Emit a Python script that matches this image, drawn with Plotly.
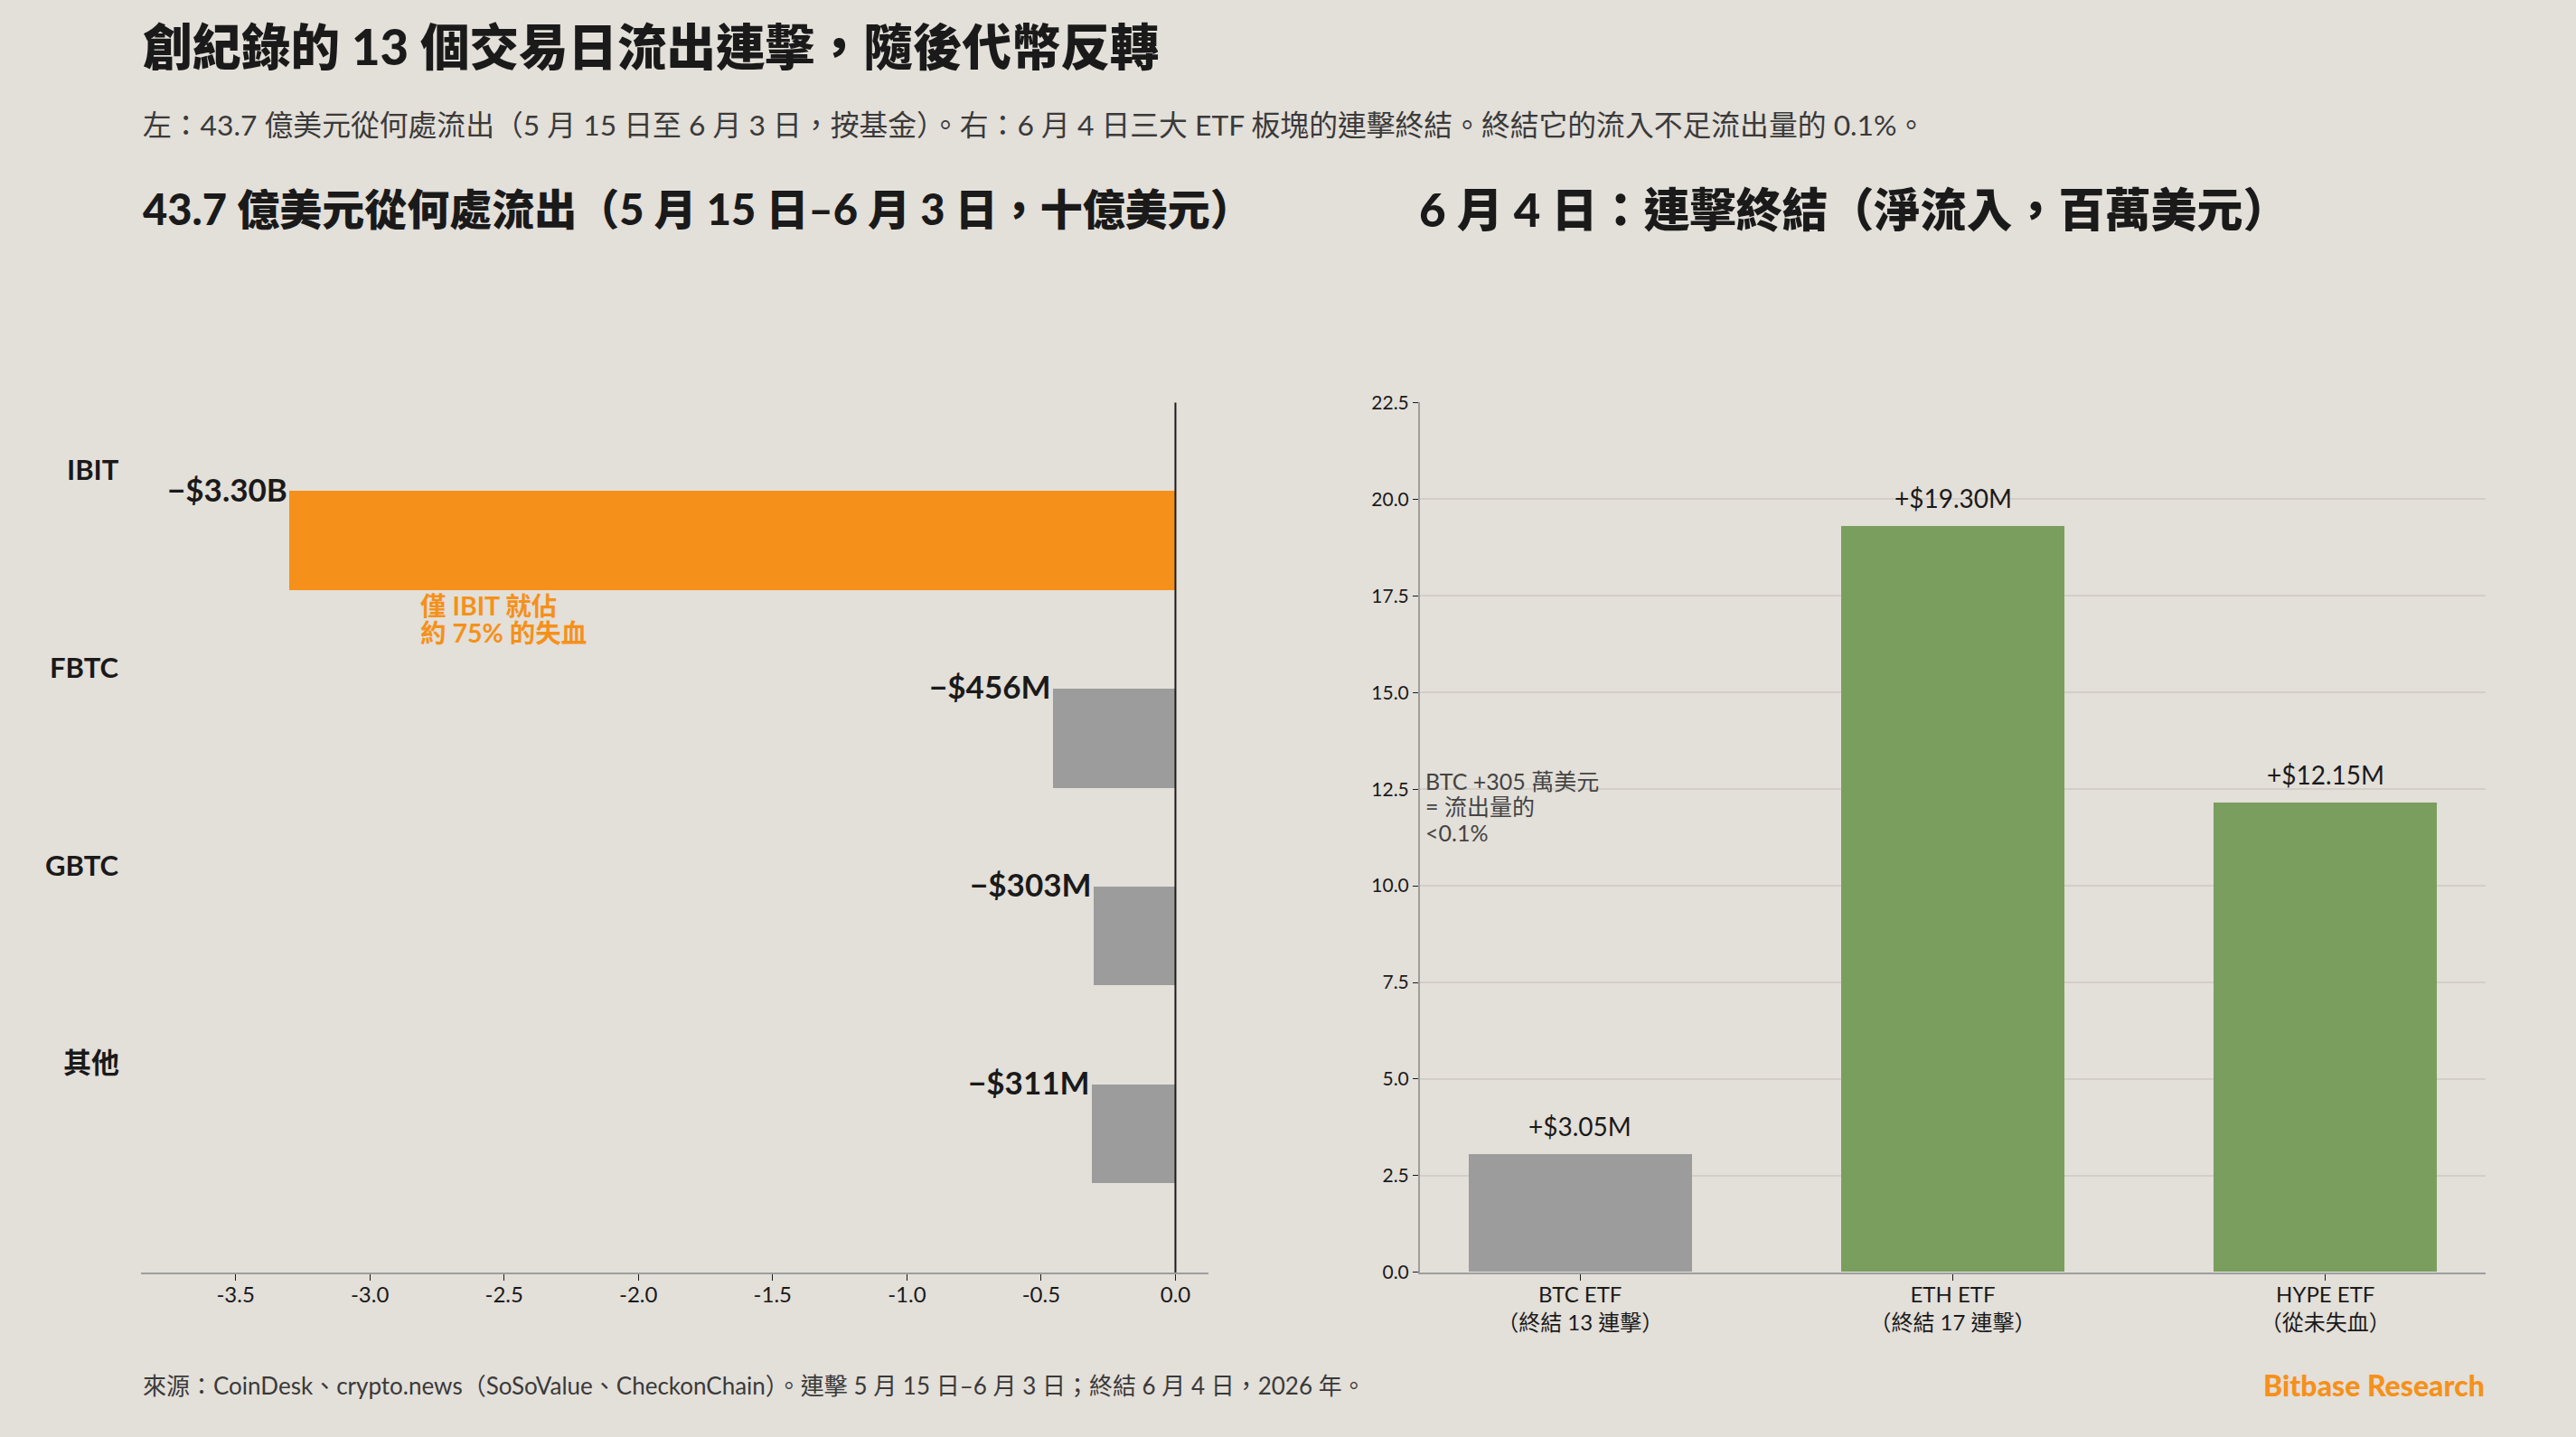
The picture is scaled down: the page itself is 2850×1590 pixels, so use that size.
import plotly.graph_objects as go

W, H = 2850, 1590
BG = "#E3DFD9"
ORANGE = "#F5911A"
GRAY = "#9C9C9C"
GREEN = "#7A9E5E"
DARK = "#1A1A1A"
MID = "#3A3A3A"
AXIS = "#9E9E9E"
GRID = "#D3CEC7"
FONT = "Lato, 'Noto Sans CJK TC', sans-serif"
HEAVY = "Lato, 'Noto Sans CJK TC Black', 'Noto Sans CJK TC', sans-serif"

# ---------------- data ----------------
left_funds = ["IBIT", "FBTC", "GBTC", "其他"]
left_outflow_bn = [-3.30, -0.456, -0.303, -0.311]
left_value_labels = ["−$3.30B", "−$456M", "−$303M", "−$311M"]
left_xtick_vals = [-3.5, -3.0, -2.5, -2.0, -1.5, -1.0, -0.5, 0.0]
left_xtick_text = ["-3.5", "-3.0", "-2.5", "-2.0", "-1.5", "-1.0", "-0.5", "0.0"]

right_etfs = ["BTC ETF<br>（終結 13 連擊）", "ETH ETF<br>（終結 17 連擊）", "HYPE ETF<br>（從未失血）"]
right_inflow_m = [3.05, 19.30, 12.15]
right_value_labels = ["+$3.05M", "+$19.30M", "+$12.15M"]
right_ytick_vals = [0.0, 2.5, 5.0, 7.5, 10.0, 12.5, 15.0, 17.5, 20.0, 22.5]
right_ytick_text = ["0.0", "2.5", "5.0", "7.5", "10.0", "12.5", "15.0", "17.5", "20.0", "22.5"]

headline = "創紀錄的 13 個交易日流出連擊，隨後代幣反轉"
subtitle = ("左：43.7 億美元從何處流出（5 月 15 日至 6 月 3 日，按基金）。"
            "右：6 月 4 日三大 ETF 板塊的連擊終結。終結它的流入不足流出量的 0.1%。")
left_title = "43.7 億美元從何處流出（5 月 15 日–6 月 3 日，十億美元）"
right_title = "6 月 4 日：連擊終結（淨流入，百萬美元）"
footer = ("來源：CoinDesk、crypto.news（SoSoValue、CheckonChain）。"
          "連擊 5 月 15 日–6 月 3 日；終結 6 月 4 日，2026 年。")
brand = "Bitbase Research"
ibit_note_lines = ["僅 IBIT 就佔", "約 75% 的失血"]
btc_note_lines = ["BTC +305 萬美元", "= 流出量的", "<0.1%"]

# ---------------- layout helpers ----------------
# vertical correction measured from the rendered output
YA, YB = 0.9838, 13.8


def px_x(p):
    return p / W


def px_y(p):
    return 1 - ((p - YB) / YA) / H


PLOT_TOP, PLOT_BOT = 445, 1407
YS = 1 / YA  # scale for pixel shifts

fig = go.Figure()

fig.add_trace(go.Bar(
    x=left_outflow_bn, y=left_funds, orientation="h",
    marker=dict(color=[ORANGE, GRAY, GRAY, GRAY], line=dict(width=0)),
    width=0.5, xaxis="x", yaxis="y", hoverinfo="skip", showlegend=False,
))
fig.add_trace(go.Bar(
    x=right_etfs, y=right_inflow_m,
    marker=dict(color=[GRAY, GREEN, GREEN], line=dict(width=0)),
    width=0.6, xaxis="x2", yaxis="y2", hoverinfo="skip", showlegend=False,
))

annotations = []


def ann(text, x, y, size, color=DARK, xanchor="left", yanchor="middle",
        xref="paper", yref="paper", weight="normal", align="left",
        family=FONT, **kw):
    annotations.append(dict(
        text=text, x=x, y=y, xref=xref, yref=yref, xanchor=xanchor,
        yanchor=yanchor, showarrow=False, align=align,
        font=dict(family=family, size=size, color=color, weight=weight), **kw))


# header
ann(headline, px_x(156), px_y(51), 54.5, DARK, weight=900, family=HEAVY)
ann(subtitle, px_x(156), px_y(138), 31.8, MID)
ann(left_title, px_x(156), px_y(231), 47, DARK, weight=900, family=HEAVY)
ann(right_title, px_x(1568), px_y(231), 51, DARK, weight=900, family=HEAVY)
# footer
ann(footer, px_x(156), px_y(1532), 26, MID)
ann(brand, px_x(2751), px_y(1532), 32, ORANGE, xanchor="right", weight=900,
    family=HEAVY)

# left panel labels
for fund, v, lab in zip(left_funds, left_outflow_bn, left_value_labels):
    ann(fund, px_x(134), fund, 31, DARK, xanchor="right", yref="y",
        weight="bold", yshift=78 * YS)
    ann(lab, v, fund, 35, DARK, xanchor="right", xref="x", yref="y",
        weight="bold", yshift=57 * YS)
for i, line in enumerate(ibit_note_lines):
    ann(line, -2.82, left_funds[0], 28.5, ORANGE, xref="x", yref="y",
        weight="bold", yshift=-(70 + 30 * i) * YS)

# right panel labels
for cat, v, lab in zip(right_etfs, right_inflow_m, right_value_labels):
    ann(lab, cat, v, 28, DARK, xanchor="center", yanchor="bottom",
        xref="x2", yref="y2", yshift=12 * YS)
for i, line in enumerate(btc_note_lines):
    ann(line, px_x(1575), px_y(863 + 28.5 * i), 25, "#444444")

fig.update_layout(
    width=W, height=H, autosize=False,
    margin=dict(l=0, r=0, t=0, b=0, pad=0),
    paper_bgcolor=BG, plot_bgcolor=BG,
    font=dict(family=FONT, color=DARK),
    bargap=0, showlegend=False,
    annotations=annotations,
    xaxis=dict(
        domain=[px_x(156), px_x(1337)], range=[-3.852, 0.123],
        anchor="y", showline=True, linecolor=AXIS, linewidth=2,
        ticks="outside", ticklen=7, tickcolor=DARK, tickwidth=1,
        tickvals=left_xtick_vals, ticktext=left_xtick_text,
        tickfont=dict(size=24, color=DARK, family=FONT),
        ticklabelstandoff=-5,
        showgrid=False, zeroline=False, fixedrange=True,
    ),
    yaxis=dict(
        domain=[px_y(PLOT_BOT), px_y(PLOT_TOP)], range=[3.7, -0.7],
        anchor="x", type="category", categoryorder="array",
        categoryarray=left_funds, showticklabels=False, showline=False,
        showgrid=False, zeroline=False, ticks="",
    ),
    xaxis2=dict(
        domain=[px_x(1571), px_x(2750)], range=[-0.43, 2.43],
        anchor="y2", type="category", showline=True, linecolor=AXIS,
        linewidth=2, ticks="outside", ticklen=7, tickcolor=DARK,
        tickwidth=1, tickfont=dict(size=24, color=DARK, family=FONT),
        ticklabelstandoff=-5,
        showgrid=False, zeroline=False,
    ),
    yaxis2=dict(
        domain=[px_y(PLOT_BOT), px_y(PLOT_TOP)], range=[0, 22.5],
        anchor="x2", showline=True, linecolor=AXIS, linewidth=2,
        ticks="outside", ticklen=6, tickcolor=DARK, tickwidth=1,
        tickvals=right_ytick_vals, ticktext=right_ytick_text,
        tickfont=dict(size=21, color=DARK, family=FONT),
        showgrid=True, gridcolor=GRID, gridwidth=1.5, zeroline=False,
    ),
    shapes=[dict(type="line", xref="x", yref="y domain", x0=0, x1=0,
                 y0=0, y1=1, line=dict(color=DARK, width=2), layer="above")],
)

fig.write_html("out.html")
